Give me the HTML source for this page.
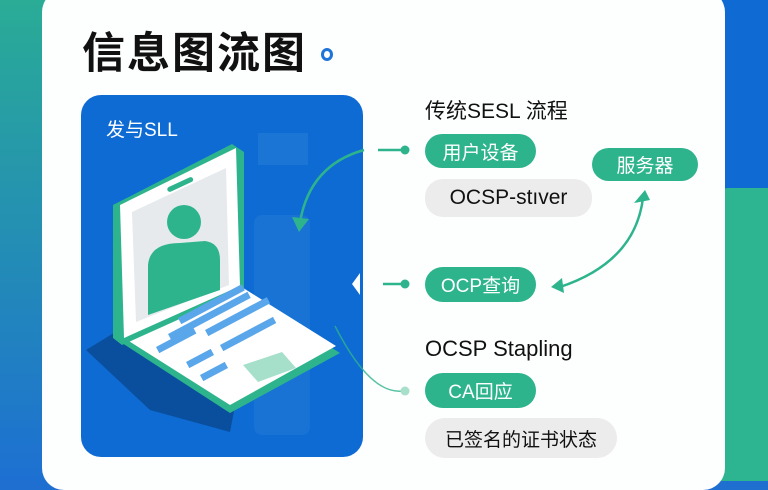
<!DOCTYPE html>
<html><head><meta charset="utf-8"><style>
*{margin:0;padding:0;box-sizing:border-box}
body{width:768px;height:481px;overflow:hidden;position:relative;font-family:"Liberation Sans","Noto Sans CJK SC",sans-serif;background:#1f6fd0}
.abs{position:absolute}
.pill{position:absolute;border-radius:18px;display:flex;align-items:center;justify-content:center;font-size:19px}
.g{background:#2eb48c;color:#fff}
.gr{background:#ececec;color:#111}
</style></head><body>
<div class="abs" style="left:0;top:0;width:60px;height:481px;background:linear-gradient(#2aac96,#1d70d2)"></div>
<div class="abs" style="left:700px;top:0;width:68px;height:195px;background:#0f6bd3"></div>
<div class="abs" style="left:700px;top:188px;width:68px;height:293px;background:#2db592;border-radius:30px 0 0 0"></div>
<div class="abs" style="left:42px;top:-10px;width:683px;height:500px;background:#fdfefe;border-radius:22px"></div>
<div class="abs" style="left:82px;top:19px;font-size:43px;font-weight:bold;color:#111;letter-spacing:2px">信息图流图</div>
<div class="abs" style="left:321px;top:48px;width:12px;height:13px;border:3px solid #1e74d8;border-radius:50%"></div>
<div class="abs" style="left:81px;top:95px;width:282px;height:362px;background:#0d6bd3;border-radius:20px"></div>
<div class="abs" style="left:106px;top:115px;font-size:19px;color:#fff">发与SLL</div>
<svg class="abs" style="left:0;top:0" width="768" height="481">
<rect x="258" y="133" width="50" height="32" fill="#2a7fd8" opacity=".5"/>
<rect x="254" y="215" width="56" height="220" rx="8" fill="#2a7fd8" opacity=".4"/>
<path d="M360 273 L352 284 L360 295 Z" fill="#fdfefe"/>
<polygon points="86,350 122,328 240,380 230,432 150,410" fill="#0a4f9e"/>
<polygon points="122,343 240,290 340,353 230,413" fill="#2eb48c"/>
<polygon points="124,338 240,286 336,346 230,405" fill="#fff"/>
<polygon points="113,205 232,144 244,152 244,290 122,345 113,338" fill="#2eb48c"/>
<polygon points="120,205 236,148 240,286 124,338" fill="#fff"/>
<polygon points="132,212 226,168 229,285 136,322" fill="#e6eaed"/>
<rect x="166" y="182" width="28" height="5" rx="2.5" fill="#2eb48c" transform="rotate(-25 180 184)"/>
<circle cx="184" cy="222" r="17" fill="#2eb48c"/>
<path d="M148 315 L148 265 Q150 243 180 243 L205 241 Q220 243 220 260 L220 290 Z" fill="#2eb48c"/>
<g fill="#5aa6ea">
<rect x="178" y="318" width="72" height="7" transform="rotate(-28 178 318)"/>
<rect x="168" y="334" width="90" height="7" transform="rotate(-28 168 334)"/>
<rect x="156" y="347" width="42" height="7" transform="rotate(-28 156 347)"/>
<rect x="205" y="330" width="70" height="7" transform="rotate(-28 205 330)"/>
<rect x="186" y="362" width="28" height="7" transform="rotate(-28 186 362)"/>
<rect x="220" y="345" width="60" height="7" transform="rotate(-28 220 345)"/>
<rect x="200" y="375" width="28" height="7" transform="rotate(-28 200 375)"/>
</g>
<polygon points="243,365 282,352 296,368 258,382" fill="#a6e0cb"/>
<g stroke="#2eb48c" stroke-width="2.5" fill="none">
<path d="M364 150 Q310 165 300 222"/>
<path d="M378 150 H403"/><path d="M383 284 H403"/>
<path d="M643 198 Q635 262 560 287"/>
<path d="M335 326 Q370 395 403 391" stroke-width="1.5" opacity=".8"/>
</g>
<circle cx="405" cy="150" r="4.5" fill="#2eb48c"/>
<circle cx="405" cy="284" r="4.5" fill="#2eb48c"/>
<circle cx="405" cy="391" r="4.5" fill="#a8dfcb"/>
<polygon points="292,217 309,219 299,232" fill="#2eb48c"/>
<polygon points="634,203 650,200 645,190" fill="#2eb48c"/>
<polygon points="551,287 562,278 564,293" fill="#2eb48c"/>
</svg>
<div class="abs" style="left:425px;top:95px;font-size:21px;color:#111">传统SESL 流程</div>
<div class="pill g" style="left:425px;top:134px;width:111px;height:34px">用户设备</div>
<div class="pill g" style="left:592px;top:148px;width:106px;height:33px">服务器</div>
<div class="pill gr" style="left:425px;top:179px;width:167px;height:38px;font-size:21px">OCSP-stıver</div>
<div class="pill g" style="left:425px;top:267px;width:111px;height:35px">OCP查询</div>
<div class="abs" style="left:425px;top:336px;font-size:22px;color:#111">OCSP Stapling</div>
<div class="pill g" style="left:425px;top:373px;width:111px;height:35px">CA回应</div>
<div class="pill gr" style="left:425px;top:418px;width:192px;height:40px;border-radius:20px">已签名的证书状态</div>
</body></html>
